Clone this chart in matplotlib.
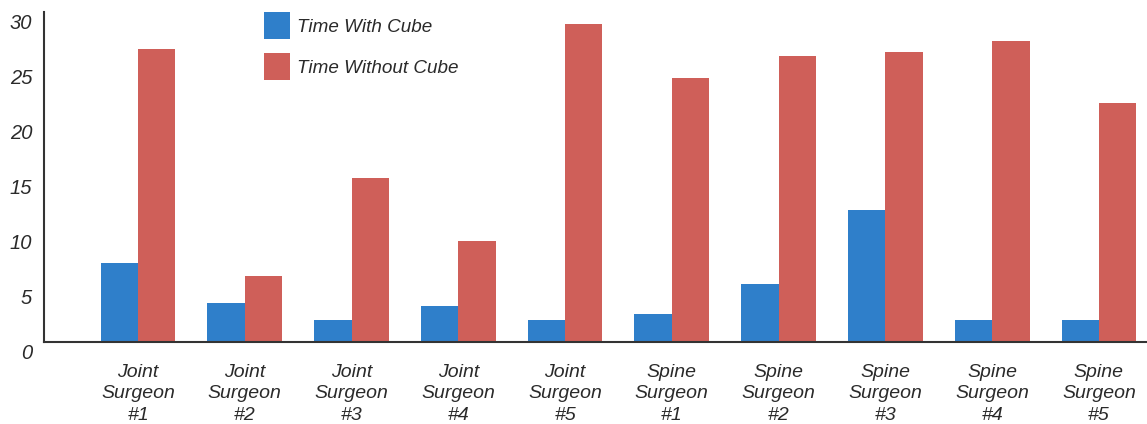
import matplotlib.pyplot as plt
import matplotlib.transforms as mtransforms
import numpy as np

plt.rcParams['font.family'] = ['Liberation Sans', 'DejaVu Sans']
plt.rcParams['font.style'] = 'italic'

surgeons = ['Joint\nSurgeon\n#1', 'Joint\nSurgeon\n#2', 'Joint\nSurgeon\n#3',
            'Joint\nSurgeon\n#4', 'Joint\nSurgeon\n#5', 'Spine\nSurgeon\n#1',
            'Spine\nSurgeon\n#2', 'Spine\nSurgeon\n#3', 'Spine\nSurgeon\n#4',
            'Spine\nSurgeon\n#5']
with_cube = [7.2, 3.6, 2.0, 3.3, 2.0, 2.6, 5.3, 12.0, 2.0, 2.0]
without_cube = [26.7, 6.0, 15.0, 9.2, 29.0, 24.1, 26.1, 26.4, 27.4, 21.8]
yticks = [0, 5, 10, 15, 20, 25, 30]

blue = '#2f7fca'
red = '#cf5f59'
txt = '#2a2a2a'

fig = plt.figure(figsize=(11.47, 4.24), dpi=100)
ax = fig.add_axes([0.0384, 0.193, 0.9616, 0.779])

x = np.arange(len(surgeons))
w = 0.35
ax.bar(x - w/2, with_cube, w, color=blue, label='Time With Cube')
ax.bar(x + w/2, without_cube, w, color=red, label='Time Without Cube')

ax.set_xlim(-0.88, 9.45)
ax.set_ylim(0, 30.1)

ax.set_yticks(yticks)
ax.set_yticklabels([str(v) for v in yticks])
ax.set_xticks(x)
ax.set_xticklabels(surgeons, linespacing=1.34)

ax.tick_params(axis='y', length=0, pad=8.5, labelsize=14.5, labelcolor=txt)
ax.tick_params(axis='x', length=0, pad=15.5, labelsize=14, labelcolor=txt)

# y labels sit a bit below their gridline in the original
off = mtransforms.ScaledTranslation(0, -9/100, fig.dpi_scale_trans)
for lab in ax.get_yticklabels():
    lab.set_transform(lab.get_transform() + off)

for s in ['top', 'right']:
    ax.spines[s].set_visible(False)
for s in ['left', 'bottom']:
    ax.spines[s].set_linewidth(1.5)
    ax.spines[s].set_color('#333333')

leg = ax.legend(loc='upper left', bbox_to_anchor=(0.230, 0.9717),
                bbox_transform=fig.transFigure, frameon=False,
                borderpad=0, borderaxespad=0, handlelength=1.38,
                handleheight=1.85, labelspacing=0.72, handletextpad=0.38,
                fontsize=13.6)
for t in leg.get_texts():
    t.set_color(txt)

fig.savefig('out.png', dpi=100)
